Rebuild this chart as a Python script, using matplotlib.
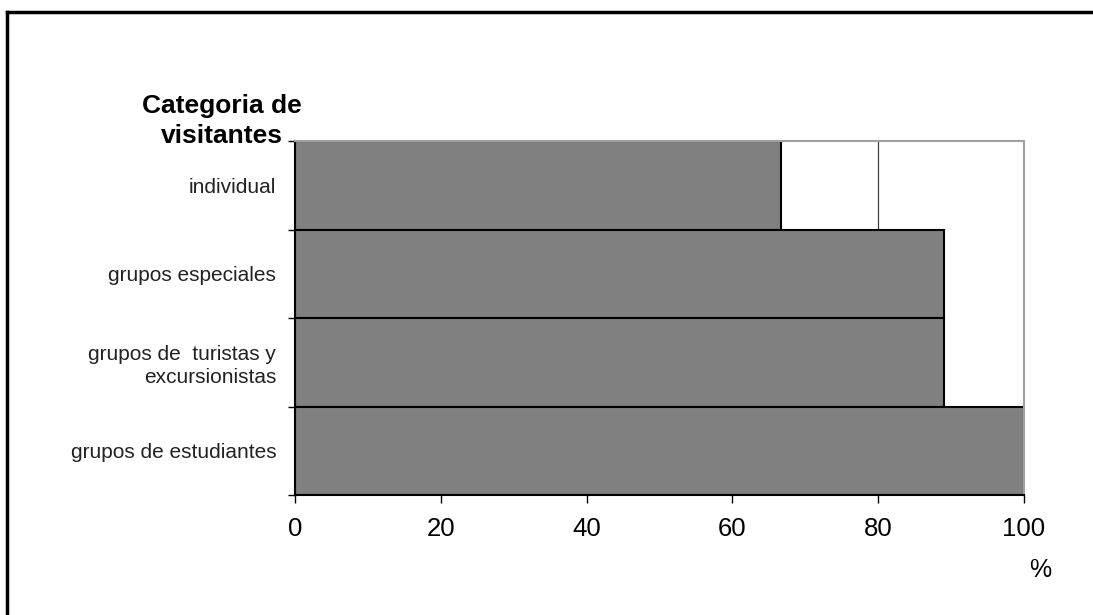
import matplotlib
matplotlib.use("Agg")
import matplotlib.pyplot as plt
from matplotlib.lines import Line2D

categories = ["individual", "grupos especiales", "grupos de  turistas y\nexcursionistas", "grupos de estudiantes"]
values = [66.7, 89.0, 89.0, 100.0]
xticks = [0, 20, 40, 60, 80, 100]

plt.rcParams['font.family'] = ['Liberation Sans', 'DejaVu Sans']

fig = plt.figure(figsize=(10.93, 6.15), dpi=100)
ax = fig.add_axes([295/1093, 1-495/615, (1024-295)/1093, (495-141)/615])

n = len(categories)
ypos = list(range(n))[::-1]
ax.set_axisbelow(True)
ax.xaxis.grid(True, color='#404040', linewidth=0.9)
ax.barh(ypos, values, height=1.0, color='#808080', edgecolor='black', linewidth=1.5, zorder=2)

ax.set_xlim(0, 100)
ax.set_ylim(-0.5, n - 0.5)
ax.set_xticks(xticks)
ax.set_xticklabels([str(t) for t in xticks], fontsize=18.5)
ax.tick_params(axis='x', length=6, width=1, pad=10, colors='black')

ax.set_yticks(ypos)
ax.set_yticklabels(categories, fontsize=15, color='#222222', linespacing=1.25)
ax.tick_params(axis='y', which='major', length=0, pad=13.5)
ax.set_yticks([i - 0.5 for i in range(n + 1)], minor=True)
ax.tick_params(axis='y', which='minor', length=5, width=1)

for s in ['top', 'right']:
    ax.spines[s].set_color('#a0a0a0')
    ax.spines[s].set_linewidth(1.5)
for s in ['left', 'bottom']:
    ax.spines[s].set_color('black')
    ax.spines[s].set_linewidth(1.5)

fig.text(222/1093, 1-143/615, "Categoria de\nvisitantes", ha='center', va='baseline',
         multialignment='center', fontsize=19, fontweight='bold', linespacing=1.32)
fig.text(1040/1093, 1-570/615, "%", ha='center', va='center', fontsize=18)

# outer border
fig.add_artist(Line2D([7/1093, 7/1093], [0, 1-12/615], color='black', linewidth=2.5, transform=fig.transFigure))
fig.add_artist(Line2D([7/1093, 1], [1-12/615, 1-12/615], color='black', linewidth=2.5, transform=fig.transFigure))

fig.savefig("out.png", dpi=100)
